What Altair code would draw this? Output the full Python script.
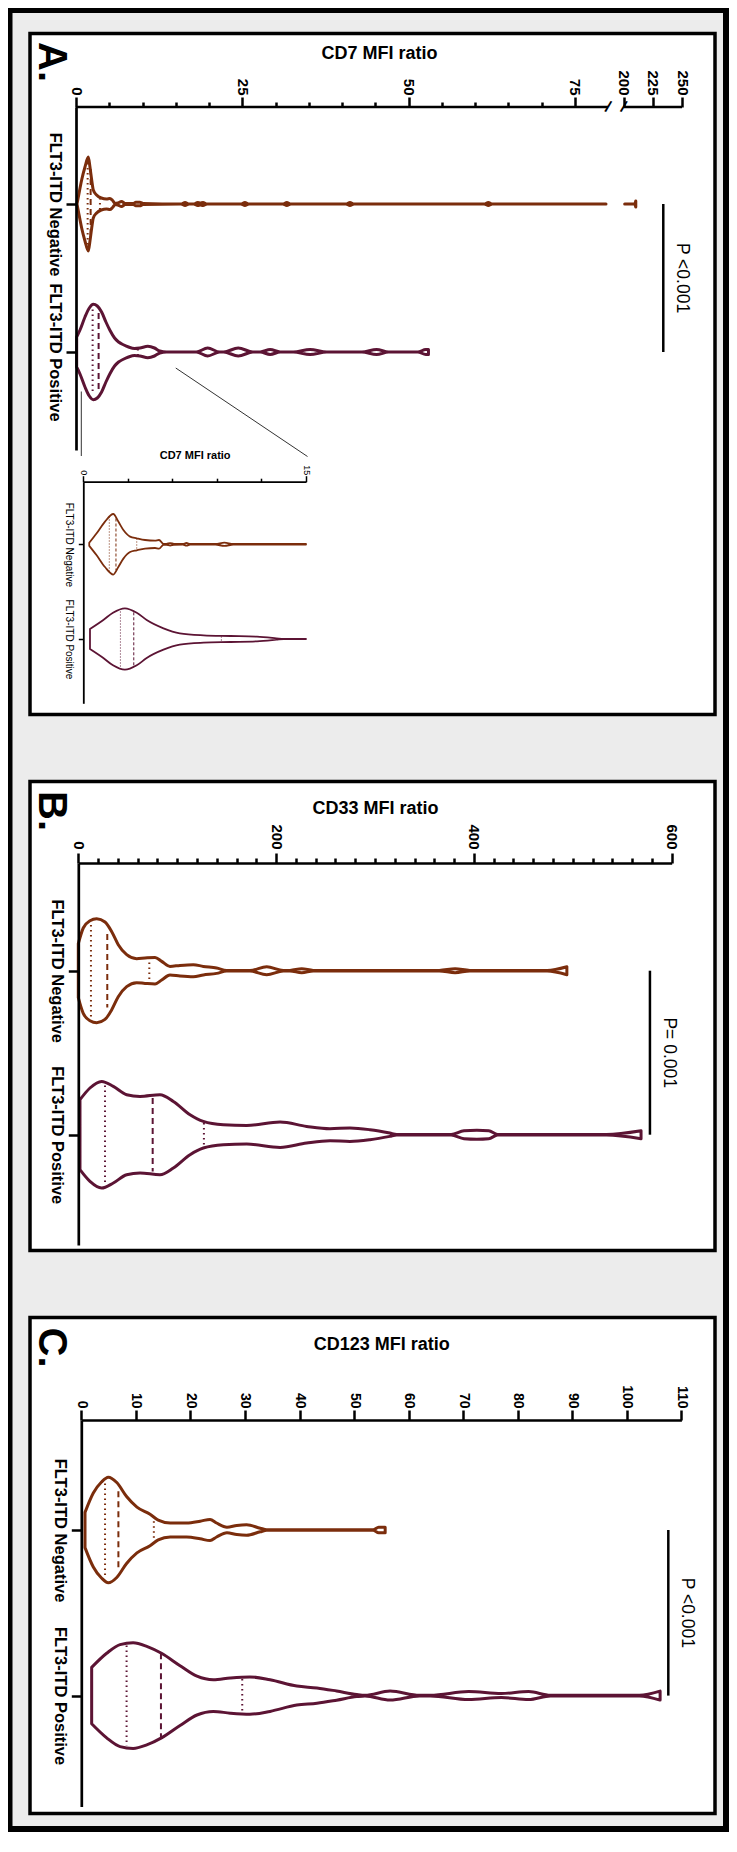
import altair as alt
import pandas as pd

FONT = "Liberation Sans"
NEG, POS = "FLT3-ITD Negative", "FLT3-ITD Positive"
GROUPS = [NEG, POS]
COLORS = ["#7b2d0c", "#5c1434"]
QKINDS = ["q1", "median", "q3"]

# ---------------- Panel A : CD7 MFI ratio (main plot, broken axis) ----------------
A_NEG_VAL = [0.15, 0.35, 0.85, 1.35, 1.85, 2.1, 2.36, 2.6, 3.1, 3.8, 4.6, 5.1, 5.5, 5.9,
             6.3, 6.85, 7.4, 8.6, 9.0, 9.6, 10.1, 15.8, 16.4, 17.0, 17.7, 18.3, 18.7, 19.1,
             19.7, 24.8, 25.4, 26.0, 31.1, 31.7, 32.3, 40.6, 41.2, 41.8, 61.4, 62.0, 62.6, 79.7]
A_NEG_DEN = [0, 7, 24, 37, 47, 37, 24, 14, 9, 6, 5, 5.5, 3.5, 0.5,
             1, 2.5, 0.5, 0.5, 1.8, 1.8, 0.5, 0, 1.5, 0, 0, 1.5, 1.0, 1.5,
             0, 0, 1.5, 0, 0, 1.5, 0, 0, 1.5, 0, 0, 1.5, 0, 0]
A_NEG_HIGH_VAL = [201, 209.5, 210.5]
A_NEG_HIGH_DEN = [0, 0, 3]
A_POS_VAL = [0.1, 0.6, 1.35, 2.0, 2.6, 3.2, 3.85, 4.5, 5.1, 5.8, 6.4, 7.2, 7.9, 8.8, 9.6,
             10.8, 11.8, 12.6, 13.6, 18.1, 19.8, 21.6, 22.2, 24.4, 26.6, 27.7, 29.2, 30.7,
             32.7, 35.2, 37.7, 43.0, 45.2, 47.0, 51.4, 52.6, 53.0]
A_POS_DEN = [15, 22, 35, 44, 47.7, 46, 40, 30, 21.7, 14, 10, 7, 5, 3.5, 4,
             5.7, 4, 1, 0, 0, 4, 0, 0, 4, 0, 0, 2.5, 0,
             0, 2.5, 0, 0, 2.5, 0, 0, 2.5, 2.5]
A_NEG_Q = [1.75, 2.2, 3.6]
A_NEG_QW = [41, 35, 6]
A_POS_Q = [2.5, 3.4, 9.3]
A_POS_QW = [42.5, 39, 3]
A_TICKS = [0, 25, 50, 75, 200, 225, 250]
A_MINOR = [5, 10, 15, 20, 30, 35, 40, 45, 55, 60, 65, 70]
A_SEGMENTS_FROM = [0, 200]
A_SEGMENTS_TO = [80, 250]
A_BREAKS = [80, 200]
A_P_X = 234
A_P_TEXT = "P <0.001"

# ---------------- Panel A inset : CD7 MFI ratio 0-15 ----------------
I_NEG_VAL = [0.4, 0.9, 1.46, 2.02, 2.36, 2.7, 3.15, 3.6, 4.16, 4.83, 5.1, 5.4, 5.6, 5.85,
             6.1, 6.7, 6.95, 7.2, 8.9, 9.5, 10.1, 15]
I_NEG_DEN = [1.5, 11, 22.7, 30.3, 22.7, 14.3, 7.7, 6, 4.3, 3.7, 4.3, 0.5, 0.5, 1.2,
             0.5, 0.3, 1.3, 0.3, 0.3, 1.6, 0.3, 0.3]
I_POS_VAL = [0.45, 1.35, 2.0, 2.8, 3.6, 4.27, 5.4, 6.5, 8.1, 9.9, 11.7, 13.0, 13.5, 15]
I_POS_DEN = [10, 19, 26.3, 30.7, 26.3, 19, 10.7, 5.7, 3.7, 3, 2.3, 0.7, 0, 0]
I_NEG_QW = [27.8, 25.8, 5.8]
I_POS_QW = [27.5, 26.7, 2.5]
I_TICKS = [0, 15]
I_MINOR = [3, 6, 9, 12]

# ---------------- Panel B : CD33 MFI ratio ----------------
B_NEG_VAL = [0, 5, 11.8, 18.6, 27, 33.8, 40.4, 48.9, 59, 67.4, 77.6, 84.3, 92.7, 102.8,
             116.3, 126.4, 139.9, 150, 173.6, 190.5, 207.3, 214, 225.9, 237.6, 365, 381,
             396, 474, 494]
B_NEG_DEN = [27, 42.7, 50, 52, 48.7, 39, 26, 16, 12, 12.7, 13.3, 9.3, 4.3, 5.3,
             6, 4.3, 2.7, 0.3, 0.3, 4, 0.3, 0.3, 2, 0.3, 0.3, 2,
             0.3, 0.3, 4]
B_POS_VAL = [1.7, 11.8, 23.6, 35.4, 48.9, 62.4, 82.6, 96.1, 113, 126.4, 146.6, 170.3, 204,
             230.9, 254.5, 274.7, 294.9, 315, 322, 377, 390, 403, 415, 424, 534, 569]
B_POS_DEN = [35, 46.7, 53.3, 48.3, 40, 38.3, 40, 33.3, 20, 13.3, 10, 9.3, 12.7,
             8.3, 6, 6.7, 5, 1.7, 0.3, 0.3, 4, 4.5, 4, 0.3, 0.3, 4]
B_NEG_Q = [12.8, 29.3, 71.8]
B_NEG_QW = [45.8, 36.7, 8.3]
B_POS_Q = [27, 75.2, 127]
B_POS_QW = [49.2, 36.7, 11.7]
B_TICKS = [0, 200, 400, 600]
B_MINOR = [20, 40, 60, 80, 100, 120, 140, 160, 180, 220, 240, 260, 280, 300, 320, 340, 360,
           380, 420, 440, 460, 480, 500, 520, 540, 560, 580]
B_P_X = 578
B_P_TEXT = "P= 0.001"

# ---------------- Panel C : CD123 MFI ratio ----------------
C_NEG_VAL = [0.68, 2.2, 3.7, 4.95, 6.5, 8.3, 10.2, 12.6, 14.1, 16.3, 19.3, 21.8, 23.6, 24.8,
             26.7, 28.5, 30.3, 32.8, 34, 53.5, 54.5, 55.7]
C_NEG_DEN = [17.6, 37, 48, 52.8, 47.5, 33.5, 22.9, 15.8, 9.9, 7, 7, 8.8, 10.6, 7,
             2.8, 4.6, 5.3, 1.8, 0.3, 0.3, 2.8, 2.8]
C_POS_VAL = [1.9, 4.65, 7.1, 9.5, 12, 14.7, 18.1, 21.2, 24.2, 27.3, 30.9, 34.6, 39.5, 43.2,
             46.8, 50.5, 52, 56.6, 62, 64, 71, 77, 82, 86, 102.3, 106.1]
C_POS_DEN = [28.2, 42.3, 51, 52.8, 49.3, 42.3, 29.9, 19.4, 15.8, 17.6, 18.7, 15.8, 9.5, 7.7,
             4.6, 1, 0.3, 4.5, 0.3, 0.3, 4, 2, 4, 0.3, 0.3, 4.5]
C_NEG_Q = [4.35, 6.8, 13.3]
C_NEG_QW = [46.6, 38.7, 8.8]
C_POS_Q = [8.3, 14.6, 29.5]
C_POS_QW = [50.2, 42.3, 16.7]
C_TICKS = [0, 10, 20, 30, 40, 50, 60, 70, 80, 90, 100, 110]
C_P_X = 107.6
C_P_TEXT = "P <0.001"

# ---------------- layout constants (pixels) ----------------
PAGE_W, PAGE_H = 721, 1824
OX = 22                                  # left edge of the three panel boxes
W = 685
PA_Y, PB_Y, PC_Y = 25.5, 773.5, 1309.5   # top edge of the panel boxes
H_A, H_B, H_C = 681, 469, 496
FR_L, FR_T, FR_R, FR_B = 4.5, 5, 6, 6    # outer frame thickness

# ---------------- helpers ----------------
color_scale = alt.Scale(domain=GROUPS, range=COLORS)
LABEL_EXPR = f"datum.value == 1 ? '{NEG}' : '{POS}'"
dummy = pd.DataFrame({"k": [0]})


def center(g):
    return 1 if g == NEG else 2


def yscale(c1, spacing, top, bottom):
    return alt.Scale(domain=[1 - (c1 - top) / spacing, 2 + (bottom - c1 - spacing) / spacing],
                     range=[top, bottom], nice=False, zero=False)


def violin_df(parts, spacing):
    rows = []
    for grp, seg, vals, dens in parts:
        c = center(grp)
        for v, d in zip(vals, dens):
            rows.append({"group": grp, "seg": seg, "v": v,
                         "lo": c - d / spacing, "hi": c + d / spacing})
    return pd.DataFrame(rows)


def quart_df(parts, spacing):
    rows = []
    for grp, vals, widths in parts:
        c = center(grp)
        for kind, v, w in zip(QKINDS, vals, widths):
            rows.append({"group": grp, "kind": kind, "v": v,
                         "lo": c - w / spacing, "hi": c + w / spacing})
    return pd.DataFrame(rows)


def x_axis(axis_y, values, title, title_y, fs=15, pad=2, tick=10, tw=2.5, dw=2.7,
           domain=True, tfs=18, weight="bold"):
    return alt.Axis(orient="top", offset=-axis_y, values=values, domain=domain,
                    domainWidth=dw, domainColor="black", tickSize=tick, tickWidth=tw,
                    tickColor="black", labelAngle=90, labelAlign="right",
                    labelBaseline="middle", labelFont=FONT, labelFontSize=fs,
                    labelFontWeight=weight, labelColor="black", labelPadding=pad,
                    labelFlush=False, labelOverlap=False, grid=False, title=title,
                    titleFont=FONT, titleFontSize=tfs, titleFontWeight="bold",
                    titleColor="black", titleAngle=0, titleBaseline="alphabetic",
                    titleY=title_y, titleAlign="center", zindex=2)


def minor_axis(axis_y, values, tick=5, tw=2.5):
    return alt.Axis(orient="top", offset=-axis_y, values=values, domain=False,
                    tickSize=tick, tickWidth=tw, tickColor="black", labels=False,
                    grid=False, title=None, zindex=2)


def y_axis(axis_x, fs=16.5, weight="bold", tick=10, tw=2.5, dw=2.7, pad=4):
    return alt.Axis(orient="left", offset=-axis_x, values=[1, 2], labelExpr=LABEL_EXPR,
                    domainWidth=dw, domainColor="black", tickSize=tick, tickWidth=tw,
                    tickColor="black", labelAngle=90, labelAlign="center",
                    labelBaseline="top", labelFont=FONT, labelFontSize=fs,
                    labelFontWeight=weight, labelColor="black", labelPadding=pad,
                    labelFlush=False, labelOverlap=False, grid=False, title=None, zindex=2)


def violin_layers(vdf, qdf, xs, ys, xaxis, minor, yaxis, sw, qw, dot, dash):
    area = alt.Chart(vdf).mark_area(
        orient="vertical", interpolate="monotone", fill="white", strokeWidth=sw,
        strokeJoin="round").encode(
        x=alt.X("v:Q", scale=xs, axis=xaxis),
        y=alt.Y("lo:Q", scale=ys, axis=yaxis),
        y2="hi:Q",
        stroke=alt.Stroke("group:N", scale=color_scale, legend=None),
        detail="seg:N")
    qdot = alt.Chart(qdf).transform_filter("datum.kind != 'median'").mark_rule(
        strokeWidth=qw, strokeDash=dot).encode(
        x=alt.X("v:Q", scale=xs, axis=minor),
        y=alt.Y("lo:Q", scale=ys, axis=None), y2="hi:Q",
        stroke=alt.Stroke("group:N", scale=color_scale, legend=None))
    qdash = alt.Chart(qdf).transform_filter("datum.kind == 'median'").mark_rule(
        strokeWidth=qw, strokeDash=dash).encode(
        x=alt.X("v:Q", scale=xs, axis=None),
        y=alt.Y("lo:Q", scale=ys, axis=None), y2="hi:Q",
        stroke=alt.Stroke("group:N", scale=color_scale, legend=None))
    return [area, qdot, qdash]


def p_layers(px, text, xs, ys):
    df = pd.DataFrame({"x": [px], "y1": [1], "y2": [2], "ym": [1.5], "t": [text]})
    rule = alt.Chart(df).mark_rule(color="black", strokeWidth=2.5).encode(
        x=alt.X("x:Q", scale=xs, axis=None),
        y=alt.Y("y1:Q", scale=ys, axis=None), y2="y2:Q")
    txt = alt.Chart(df).mark_text(angle=90, align="center", baseline="middle", dy=-19,
                                  fontSize=17.5, font=FONT, color="black").encode(
        x=alt.X("x:Q", scale=xs, axis=None),
        y=alt.Y("ym:Q", scale=ys, axis=None), text="t:N")
    return [rule, txt]


def letter(t, x, y):
    return alt.Chart(pd.DataFrame({"t": [t]})).mark_text(
        angle=90, align="left", baseline="alphabetic", fontSize=40, fontWeight="bold",
        font=FONT, color="black").encode(x=alt.value(x), y=alt.value(y), text="t:N")


def rect(x0, x1, y0, y1, **kw):
    return alt.Chart(dummy).mark_rect(**kw).encode(
        x=alt.value(x0), x2=alt.value(x1), y=alt.value(y0), y2=alt.value(y1))


# ---------------- background: outer frame + white panel boxes ----------------
backdrop = [
    rect(0, PAGE_W, 0, FR_T, color="black"),
    rect(0, PAGE_W, PAGE_H - FR_B, PAGE_H, color="black"),
    rect(0, FR_L, 0, PAGE_H, color="black"),
    rect(PAGE_W - FR_R, PAGE_W, 0, PAGE_H, color="black"),
]
for top, h in [(PA_Y, H_A), (PB_Y, H_B), (PC_Y, H_C)]:
    backdrop.append(rect(OX, OX + W, top, top + h, fill="white", stroke="black", strokeWidth=3.5))

# ---------------- Panel A ----------------
A_XR = [OX + 46, OX + 578, OX + 593.5, OX + 652]
A_XS = alt.Scale(domain=[0, 80, 200, 250], range=A_XR, nice=False, zero=False)
A_AX = PA_Y + 73.5
A_SP = 148
A_YS = yscale(PA_Y + 170.5, A_SP, A_AX, PA_Y + 416.5)
a_v = violin_df([(NEG, "n1", A_NEG_VAL, A_NEG_DEN), (NEG, "n2", A_NEG_HIGH_VAL, A_NEG_HIGH_DEN),
                 (POS, "p1", A_POS_VAL, A_POS_DEN)], A_SP)
a_q = quart_df([(NEG, A_NEG_Q, A_NEG_QW), (POS, A_POS_Q, A_POS_QW)], A_SP)
a_layers = violin_layers(a_v, a_q, A_XS, A_YS,
                         x_axis(A_AX, A_TICKS, "CD7 MFI ratio", -49, domain=False),
                         minor_axis(A_AX, A_MINOR), y_axis(A_XR[0]), 3, 2, [1.5, 3.5], [6, 4])
seg_df = pd.DataFrame({"a": A_SEGMENTS_FROM, "b": A_SEGMENTS_TO})
a_line = alt.Chart(seg_df).mark_rule(color="black", strokeWidth=2.7).encode(
    x=alt.X("a:Q", scale=A_XS, axis=None), x2="b:Q", y=alt.value(A_AX))
a_break = alt.Chart(pd.DataFrame({"a": A_BREAKS})).mark_text(
    text="/", fontSize=16, fontWeight="bold", angle=20, align="center", baseline="middle",
    font=FONT, color="black").encode(x=alt.X("a:Q", scale=A_XS, axis=None), y=alt.value(A_AX))

I_XR = [OX + 53.3, OX + 276]
I_XS = alt.Scale(domain=[0, 15], range=I_XR, nice=False, zero=False)
I_AX = PA_Y + 448.2
I_SP = 94.7
I_YS = yscale(PA_Y + 510.8, I_SP, I_AX, PA_Y + 669.8)
i_v = violin_df([(NEG, "n1", I_NEG_VAL, I_NEG_DEN), (POS, "p1", I_POS_VAL, I_POS_DEN)], I_SP)
i_q = quart_df([(NEG, A_NEG_Q, I_NEG_QW), (POS, A_POS_Q, I_POS_QW)], I_SP)
i_layers = violin_layers(i_v, i_q, I_XS, I_YS,
                         x_axis(I_AX, I_TICKS, "CD7 MFI ratio", -23.7, fs=9, pad=1, tick=6,
                                tw=1.5, dw=1.8, tfs=11, weight="normal"),
                         minor_axis(I_AX, I_MINOR, tick=3.5, tw=1.5),
                         y_axis(I_XR[0], fs=10, weight="normal", tick=5, tw=1.5, dw=1.8, pad=5),
                         1.8, 1, [1, 2], [3, 2])

main_x15 = A_XR[0] + 15 * (A_XR[1] - A_XR[0]) / 80
conn1 = alt.Chart(dummy).mark_rule(color="#333333", strokeWidth=1).encode(
    x=alt.value(I_XR[0] - 2), y=alt.value(PA_Y + 358), y2=alt.value(PA_Y + 422.5))
conn2 = alt.Chart(dummy).mark_rule(color="#333333", strokeWidth=1).encode(
    x=alt.value(main_x15), x2=alt.value(I_XR[1] + 1.5),
    y=alt.value(PA_Y + 334.5), y2=alt.value(PA_Y + 423))

main_A = alt.layer(*a_layers, a_line, a_break, *p_layers(A_P_X, A_P_TEXT, A_XS, A_YS),
                   letter("A.", OX + 8.5, PA_Y + 8.5), conn1, conn2).resolve_axis(
    x="independent", y="independent")
inset_A = alt.layer(*i_layers).resolve_axis(x="independent", y="independent")

# ---------------- Panel B ----------------
B_XR = [OX + 48.3, OX + 641.7]
B_XS = alt.Scale(domain=[0, 600], range=B_XR, nice=False, zero=False)
B_AX = PB_Y + 81.5
B_SP = 164
B_YS = yscale(PB_Y + 189.2, B_SP, B_AX, PB_Y + 463.5)
b_v = violin_df([(NEG, "n1", B_NEG_VAL, B_NEG_DEN), (POS, "p1", B_POS_VAL, B_POS_DEN)], B_SP)
b_q = quart_df([(NEG, B_NEG_Q, B_NEG_QW), (POS, B_POS_Q, B_POS_QW)], B_SP)
b_layers = violin_layers(b_v, b_q, B_XS, B_YS,
                         x_axis(B_AX, B_TICKS, "CD33 MFI ratio", -50, pad=4),
                         minor_axis(B_AX, B_MINOR), y_axis(B_XR[0]), 3, 2, [1.5, 3.5], [6, 4])
panel_B = alt.layer(*b_layers, *p_layers(B_P_X, B_P_TEXT, B_XS, B_YS),
                    letter("B.", OX + 8.5, PB_Y + 9.5)).resolve_axis(x="independent", y="independent")

# ---------------- Panel C ----------------
C_XR = [OX + 51.3, OX + 651.4]
C_XS = alt.Scale(domain=[0, 110], range=C_XR, nice=False, zero=False)
C_AX = PC_Y + 102.5
C_SP = 165.6
C_YS = yscale(PC_Y + 212.5, C_SP, C_AX, PC_Y + 489.1)
c_v = violin_df([(NEG, "n1", C_NEG_VAL, C_NEG_DEN), (POS, "p1", C_POS_VAL, C_POS_DEN)], C_SP)
c_q = quart_df([(NEG, C_NEG_Q, C_NEG_QW), (POS, C_POS_Q, C_POS_QW)], C_SP)
c_layers = violin_layers(c_v, c_q, C_XS, C_YS,
                         x_axis(C_AX, C_TICKS, "CD123 MFI ratio", -71, fs=14, pad=2),
                         None, y_axis(C_XR[0]), 3, 2, [1.5, 3.5], [6, 4])
panel_C = alt.layer(*c_layers, *p_layers(C_P_X, C_P_TEXT, C_XS, C_YS),
                    letter("C.", OX + 8.5, PC_Y + 10)).resolve_axis(x="independent", y="independent")

# ---------------- page ----------------
chart = alt.layer(*backdrop, main_A, inset_A, panel_B, panel_C).resolve_scale(
    x="independent", y="independent").resolve_axis(x="independent", y="independent").properties(
    width=PAGE_W, height=PAGE_H, autosize=alt.AutoSizeParams(type="none"),
    padding={"left": 0, "top": 0, "right": 0, "bottom": 0},
    background="#ececec").configure_view(strokeWidth=0).configure_axis(grid=False)

chart.save("out.html", embed_options={"renderer": "svg", "actions": False})
